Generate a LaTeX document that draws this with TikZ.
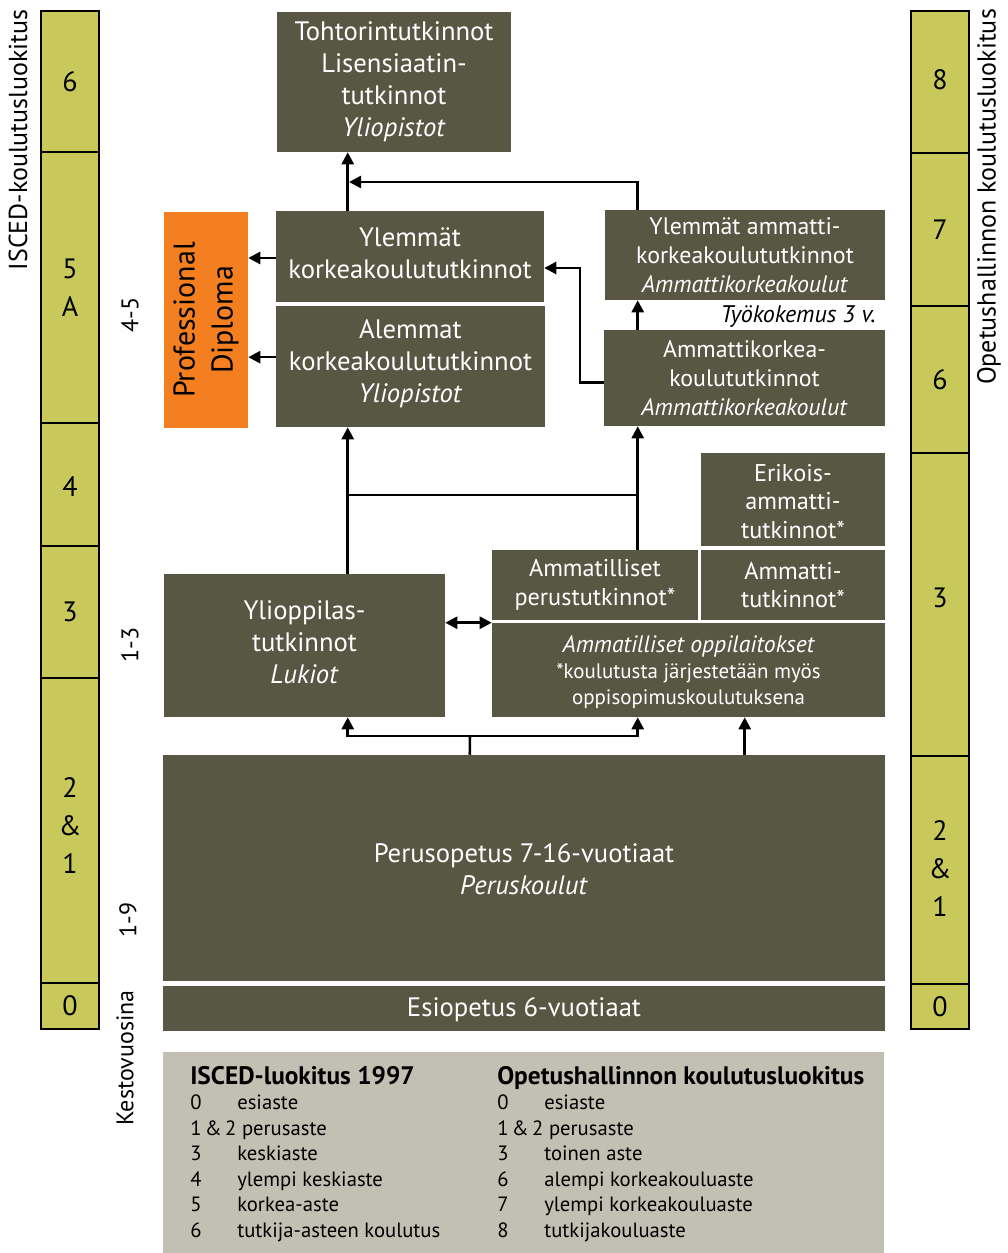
\documentclass[tikz,border=0pt]{standalone}
\usepackage{fontspec}
\setmainfont{PT Sans}
\usetikzlibrary{arrows.meta,calc}
\definecolor{olivebox}{RGB}{88,87,68}
\definecolor{bargreen}{RGB}{201,201,91}
\definecolor{orangepd}{RGB}{244,127,32}
\definecolor{leggrey}{RGB}{194,192,178}
\newcommand{\fA}{\fontsize{20}{24}\selectfont}
\newcommand{\fB}{\fontsize{17.9}{21.75}\selectfont}
\newcommand{\fC}{\fontsize{18.2}{21.4}\selectfont}
\newcommand{\fD}{\fontsize{15.7}{19.5}\selectfont}
\newcommand{\fN}{\fontsize{21}{28.5}\selectfont}
\newcommand{\fL}{\fontsize{15.5}{19}\selectfont}
% box: name, x1, y1, x2, y2, style, text, text offset (px, positive = down)
\newcommand{\pbox}[8]{%
  \node[#6, minimum width={(#4-#2)*0.75pt}, minimum height={(#5-#3)*0.75pt}] (#1) at ({(#2+#4)/2},{(#3+#5)/2}) {};
  \node[#6, fill=none, draw=none] (#1t) at ($(#1.center)+(0,#8)$) {#7};}
\tikzset{
  dbox/.style={fill=olivebox, text=white, inner sep=0pt, align=center, font=\fA},
  pdbox/.style={fill=orangepd, text=black, inner sep=0pt, align=center, font=\fN},
  barseg/.style={fill=bargreen, draw=black, line width=1.9pt, inner sep=0pt, align=center, font=\fN},
  legbox/.style={fill=leggrey, inner sep=0pt},
  arr/.style={line width=1.9pt, -{Triangle[length=9pt,width=9pt]}},
  darr/.style={line width=1.9pt, {Triangle[length=9pt,width=9pt]}-{Triangle[length=9pt,width=9pt]}},
  ln/.style={line width=1.9pt},
  rlab/.style={rotate=90, font=\fontsize{19.5}{24}\selectfont, inner sep=0pt},
  dlab/.style={rotate=90, font=\fontsize{18}{20}\selectfont, inner sep=0pt},
  legt/.style={font=\fL, anchor=base west, inner sep=0pt},
  legh/.style={font=\bfseries\fontsize{19}{21}\selectfont, anchor=base west, inner sep=0pt},
}
\begin{document}
\begin{tikzpicture}[x=0.75pt,y=-0.75pt]
\useasboundingbox (0,0) rectangle (1007,1253);
% left bar
\pbox{l6}{41}{11}{99}{152}{barseg}{6}{0}
\pbox{l5}{41}{152}{99}{423}{barseg}{5\\A}{0}
\pbox{l4}{41}{423}{99}{546}{barseg}{4}{2}
\pbox{l3}{41}{546}{99}{678}{barseg}{3}{0}
\pbox{l21}{41}{678}{99}{983}{barseg}{2\\\&\\1}{-5}
\pbox{l0}{41}{983}{99}{1029}{barseg}{0}{0}
% right bar
\pbox{r8}{911}{11}{969}{153}{barseg}{8}{-2}
\pbox{r7}{911}{153}{969}{306}{barseg}{7}{0}
\pbox{r6}{911}{306}{969}{453}{barseg}{6}{0}
\pbox{r3}{911}{453}{969}{756}{barseg}{3}{-7}
\pbox{r21}{911}{756}{969}{984}{barseg}{2\\\&\\1}{-1}
\pbox{r0}{911}{984}{969}{1029}{barseg}{0}{0}
% side titles
\node[rlab] (isced) at (18,140) {ISCED-koulutusluokitus};
\node[rlab] (opet) at (989,197) {Opetushallinnon koulutusluokitus};
% durations
\node[dlab] (d45) at (130,315) {4-5};
\node[dlab] (d13) at (130,645) {1-3};
\node[dlab] (d19) at (128,920) {1-9};
\node[dlab] (dkv) at (125,1058) {Kestovuosina};
% boxes
\pbox{toh}{277}{12}{511}{152}{dbox}{Tohtorintutkinnot\\Lisensiaatin-\\tutkinnot\\\textit{Yliopistot}}{0}
\pbox{pd}{164}{212}{248}{428}{pdbox}{}{0}
\node[rotate=90, font=\fontsize{22.5}{28.5}\selectfont, align=center, text=black] (pdt) at (pd.center) {Professional\\Diploma};
\pbox{ylk}{276}{211}{544}{302}{dbox}{Ylemmät\\korkeakoulututkinnot}{-3}
\pbox{alk}{276}{306}{545}{427}{dbox}{Alemmat\\korkeakoulututkinnot\\\textit{Yliopistot}}{-3}
\pbox{yla}{605}{210}{885}{300}{dbox,font=\fB}{Ylemmät ammatti-\\korkeakoulututkinnot\\\textit{Ammattikorkeakoulut}}{0}
\node[anchor=base east, inner sep=0pt, font=\fontsize{18}{20}\selectfont\itshape] (tyo) at (876,322) {Työkokemus 3 v.};
\pbox{amk}{604}{330}{885}{426}{dbox,font=\fB}{Ammattikorkea-\\koulututkinnot\\\textit{Ammattikorkeakoulut}}{0}
\pbox{eri}{701}{453}{885}{546}{dbox,font=\fC}{Erikois-\\ammatti-\\tutkinnot*}{2}
\pbox{app}{492}{550}{698}{620}{dbox,font=\fC}{Ammatilliset\\perustutkinnot*}{0}
\pbox{amt}{701}{550}{885}{620}{dbox,font=\fC}{Ammatti-\\tutkinnot*}{0}
\pbox{aop}{492}{623}{885}{717}{dbox,font=\fD}{{\fontsize{17.8}{19.5}\selectfont\itshape Ammatilliset oppilaitokset}\\*koulutusta järjestetään myös\\oppisopimuskoulutuksena}{2}
\pbox{ylo}{164}{574}{445}{717}{dbox}{Ylioppilas-\\tutkinnot\\\textit{Lukiot}}{-3}
\pbox{per}{163}{755}{885}{981}{dbox}{Perusopetus 7-16-vuotiaat\\\textit{Peruskoulut}}{1}
\pbox{esi}{163}{986}{885}{1031}{dbox}{Esiopetus 6-vuotiaat}{1}
% legend
\pbox{leg}{163}{1052}{884}{1253}{legbox}{}{0}
\node[legh] (lh1) at (190,1084) {ISCED-luokitus 1997};
\node[legh] (lh2) at (497,1084) {Opetushallinnon koulutusluokitus};
\foreach \y/\n/\t [count=\i] in {1109/0/esiaste,1160/3/keskiaste,1186/4/ylempi keskiaste,1211/5/korkea-aste,1237/6/tutkija-asteen koulutus}{
  \node[legt] (la\i) at (190,\y) {\n};
  \node[legt] (lb\i) at (237,\y) {\t};
}
\node[legt] (lc) at (190,1135) {1\,\&\,2 perusaste};
\foreach \y/\n/\t [count=\i] in {1109/0/esiaste,1160/3/toinen aste,1186/6/alempi korkeakouluaste,1211/7/ylempi korkeakouluaste,1237/8/tutkijakouluaste}{
  \node[legt] (ra\i) at (497,\y) {\n};
  \node[legt] (rb\i) at (544,\y) {\t};
}
\node[legt] (rc) at (497,1135) {1\,\&\,2 perusaste};
% connectors
\coordinate (j1) at (349,182);
\draw[arr] ([xshift=54pt]ylk.north west) -- ([xshift=54pt]ylk.north west |- toh.south);
\draw[arr] ([xshift=24.75pt]yla.north west) |- (j1);
\draw[arr] ([yshift=-1.1pt]ylk.west) -- ([yshift=-1.1pt]ylk.west -| pd.east);
\draw[arr] ([yshift=7pt]alk.west) -- ([yshift=7pt]alk.west -| pd.east);
\coordinate (j2) at (580,268);
\draw[arr] ([yshift=-3.4pt]amk.west) -| (j2) -- (j2 -| ylk.east);
\draw[arr] ([xshift=25.5pt]amk.north west) -- ([xshift=25.5pt]amk.north west |- yla.south);
\draw[arr] ([xshift=138pt]ylo.north west) -- ([xshift=138pt]ylo.north west |- alk.south);
\draw[arr] ([xshift=109.5pt]app.north west) -- ([xshift=109.5pt]app.north west |- amk.south);
\coordinate (j3) at (348,495);
\draw[ln] (j3) -- (j3 -| app.north west) -- ++(109.5pt,0);
\draw[darr] (ylo.east |- aop.north west) -- (aop.north west);
\coordinate (j4) at (470,736);
\draw[ln] ([xshift=230.25pt]per.north west) -- (j4);
\draw[arr] (j4) -| ([xshift=138pt]ylo.south west);
\draw[arr] (j4) -| ([xshift=109.5pt]aop.south west);
\draw[arr] ([xshift=436.5pt]per.north west) -- ([xshift=436.5pt]per.north west |- aop.south);
\end{tikzpicture}
\end{document}
